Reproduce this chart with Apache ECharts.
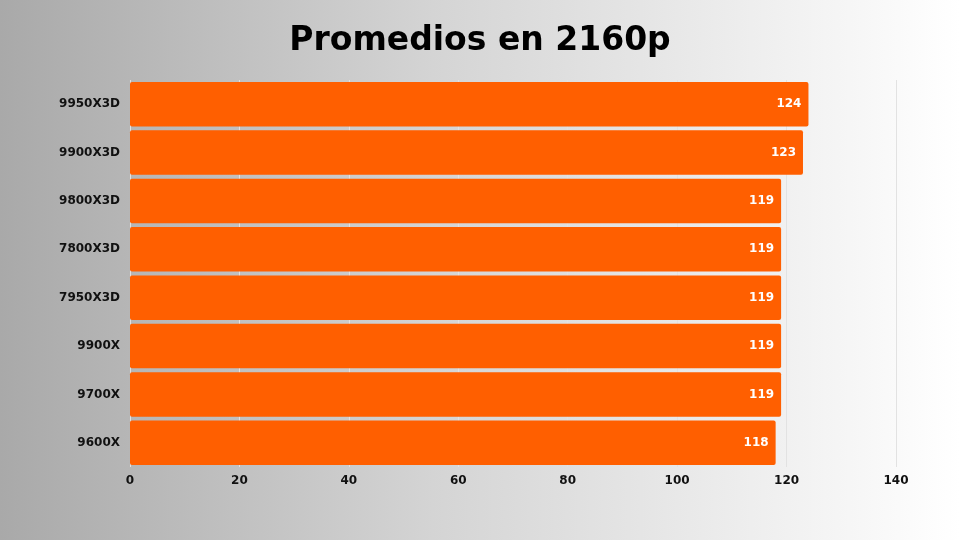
<!DOCTYPE html>
<html><head><meta charset="utf-8">
<script src="https://cdn.jsdelivr.net/npm/echarts@6/dist/echarts.min.js"></script>
<style>html,body{margin:0;padding:0}#c{width:960px;height:540px;background:linear-gradient(90deg,#a9a9a9 0%,#d4d4d4 45%,#ffffff 100%)}</style>
</head><body><div id="c"></div>
<script>
const categories = ["9950X3D","9900X3D","9800X3D","7800X3D","7950X3D","9900X","9700X","9600X"];
const values = [124,123,119,119,119,119,119,118];
const xTicks = [0,20,40,60,80,100,120,140];
const F = 'DejaVu Sans';
const chart = echarts.init(document.getElementById('c'));
chart.setOption({
  title:{text:'Promedios en 2160p',left:'center',top:20,textStyle:{fontFamily:F,fontWeight:'bold',fontSize:33,color:'#000'}},
  grid:{left:130,right:64,top:80,bottom:73},
  xAxis:{type:'value',min:0,max:140,interval:20,
    axisLabel:{color:'#111',fontWeight:'bold',fontFamily:F,fontSize:12,margin:8},
    splitLine:{lineStyle:{color:'#e2e2e2'}},axisLine:{show:false},axisTick:{show:false}},
  yAxis:{type:'category',data:categories,inverse:true,
    axisLabel:{color:'#111',fontWeight:'bold',fontFamily:F,fontSize:12,margin:10},
    axisLine:{show:false},axisTick:{show:false}},
  series:[{type:'bar',data:values,barCategoryGap:'8%',
    itemStyle:{color:'#ff5f00',borderRadius:2},
    label:{show:true,position:'insideRight',color:'#fff',fontWeight:'bold',fontFamily:F,fontSize:12,offset:[-2,0]}}]
});
</script></body></html>
